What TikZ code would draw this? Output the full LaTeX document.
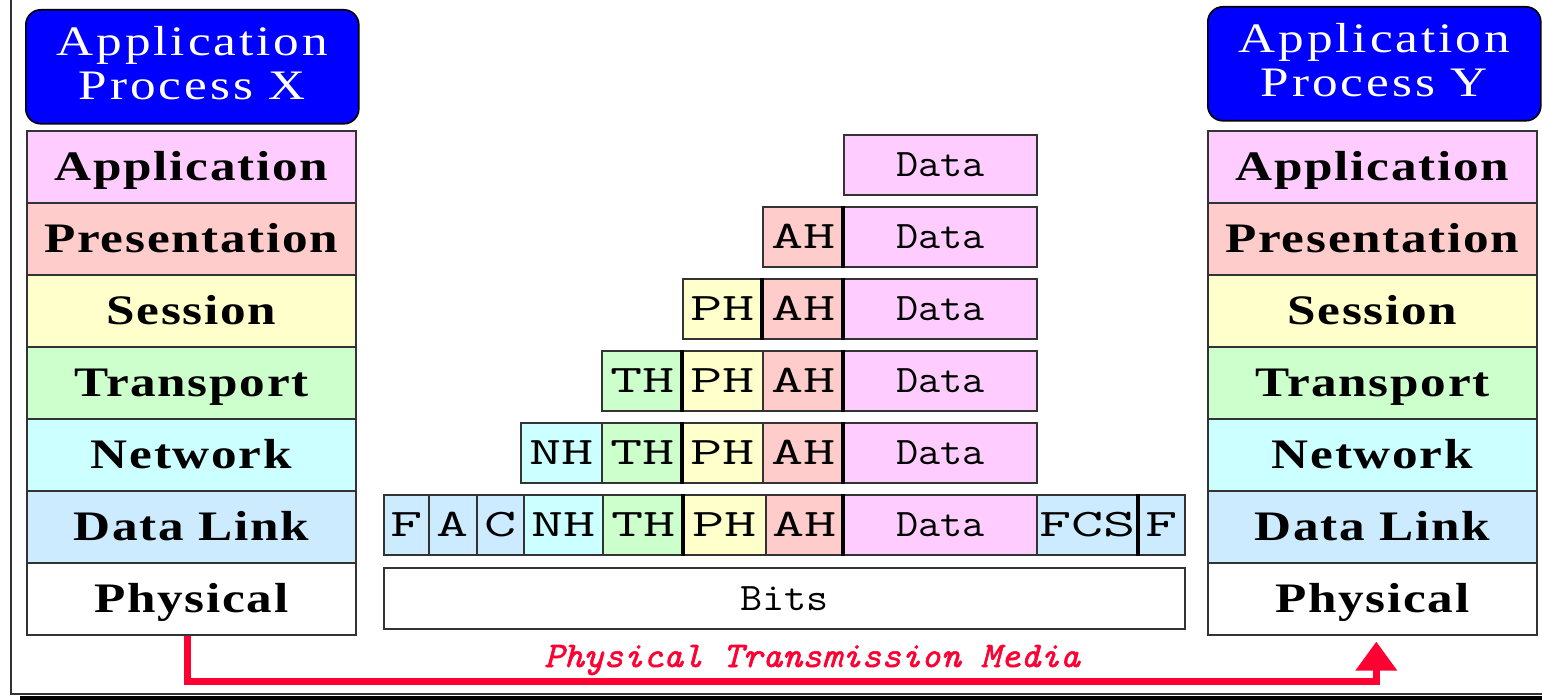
\documentclass[tikz,border=0pt]{standalone}
\usepackage{fontspec}
\setmainfont{Liberation Serif}
\newfontfamily\layerfam[FakeStretch=1.22, LetterSpace=4]{Liberation Serif}
\newfontfamily\procfam[FakeStretch=1.22, LetterSpace=7]{Liberation Serif}
\newfontfamily\monoplain[FakeStretch=1.1]{Latin Modern Mono}
\newfontfamily\monowide[FakeStretch=1.6]{Latin Modern Mono}
\newfontfamily\monoslant[FakeStretch=1.05, FakeBold=1.5]{Latin Modern Mono}
\usetikzlibrary{arrows.meta}

\definecolor{cApp}{HTML}{FFCCFF}
\definecolor{cPres}{HTML}{FFCCCC}
\definecolor{cSess}{HTML}{FFFFCC}
\definecolor{cTrans}{HTML}{CCFFCC}
\definecolor{cNet}{HTML}{CCFFFF}
\definecolor{cLink}{HTML}{CCEBFF}
\definecolor{cProc}{HTML}{0000FF}
\definecolor{cMedia}{HTML}{FF0033}
\definecolor{cEdge}{HTML}{333333}

\tikzset{
  layer/.style={anchor=north west, minimum width=329pt, minimum height=72pt,
    inner sep=0pt, draw=cEdge, line width=1.6pt,
    font=\layerfam\bfseries\fontsize{42}{44}\selectfont,
    text height=28pt, text depth=0pt},
  procbox/.style={anchor=north west, minimum width=333pt, minimum height=114pt,
    inner sep=0pt, draw=black, line width=1.6pt, fill=cProc, text=white,
    rounded corners=15pt, align=center, text depth=8pt,
    font=\procfam\fontsize{42}{44}\selectfont},
  cell/.style={anchor=north west, minimum height=60pt, inner sep=0pt,
    draw=cEdge, line width=1.6pt, text height=24pt, text depth=0pt,
    font=\monoplain\fontsize{39}{40}\selectfont},
  hcell/.style={cell, font=\monowide\fontsize{39}{40}\selectfont},
  ahcell/.style={hcell, fill=cPres},
  phcell/.style={hcell, fill=cSess},
  thcell/.style={hcell, fill=cTrans},
  nhcell/.style={hcell, fill=cNet},
  dlcell/.style={hcell, fill=cLink},
  datacell/.style={cell, fill=cApp},
  divider/.style={line width=4pt, black},
  media/.style={line width=7pt, cMedia,
    -{Triangle[width=40pt,length=29pt]}},
  frameline/.style={line width=2.4pt, black!80}
}

% one PDU field: name, left x, right x, top y, style, text
\newcommand\pfield[6]{\node[#5, minimum width={#3pt-#2pt}] (#1) at (#2,#4) {#6};}

\begin{document}
\begin{tikzpicture}[x=1pt, y=-1pt]
\useasboundingbox (0,0) rectangle (1542,700);

% outer frame with its shadow
\fill[black] (20,696) rectangle (1542,700);
\draw[frameline] (11,0) -- (11,694) -- (1542,694);

% sending side
\node[procbox] (procX) at (25,9) {Application\\Process X};
\node[layer, fill=cApp]   (apX) at (26,130) {Application};
\node[layer, fill=cPres]  (prX) at (26,202) {Presentation};
\node[layer, fill=cSess]  (seX) at (26,274) {Session};
\node[layer, fill=cTrans] (trX) at (26,346) {Transport};
\node[layer, fill=cNet]   (nwX) at (26,418) {Network};
\node[layer, fill=cLink]  (dlX) at (26,490) {Data Link};
\node[layer, fill=white]  (phX) at (26,562) {Physical};

% receiving side
\node[procbox] (procY) at (1207,6) {Application\\Process Y};
\node[layer, fill=cApp]   (apY) at (1207,130) {Application};
\node[layer, fill=cPres]  (prY) at (1207,202) {Presentation};
\node[layer, fill=cSess]  (seY) at (1207,274) {Session};
\node[layer, fill=cTrans] (trY) at (1207,346) {Transport};
\node[layer, fill=cNet]   (nwY) at (1207,418) {Network};
\node[layer, fill=cLink]  (dlY) at (1207,490) {Data Link};
\node[layer, fill=white]  (phY) at (1207,562) {Physical};

% encapsulation, one row per layer
\pfield{d1}{843}{1036}{134}{datacell}{Data}

\pfield{ah2}{762}{843}{206}{ahcell}{AH}
\pfield{d2}{843}{1036}{206}{datacell}{Data}

\pfield{ph3}{682}{762}{278}{phcell}{PH}
\pfield{ah3}{762}{843}{278}{ahcell}{AH}
\pfield{d3}{843}{1036}{278}{datacell}{Data}

\pfield{th4}{601}{682}{350}{thcell}{TH}
\pfield{ph4}{682}{762}{350}{phcell}{PH}
\pfield{ah4}{762}{843}{350}{ahcell}{AH}
\pfield{d4}{843}{1036}{350}{datacell}{Data}

\pfield{nh5}{520}{601}{422}{nhcell}{NH}
\pfield{th5}{601}{682}{422}{thcell}{TH}
\pfield{ph5}{682}{762}{422}{phcell}{PH}
\pfield{ah5}{762}{843}{422}{ahcell}{AH}
\pfield{d5}{843}{1036}{422}{datacell}{Data}

\pfield{f6}{383}{428}{494}{dlcell}{F}
\pfield{a6}{428}{476}{494}{dlcell}{A}
\pfield{c6}{476}{523}{494}{dlcell}{C}
\pfield{nh6}{523}{602}{494}{nhcell}{NH}
\pfield{th6}{602}{683}{494}{thcell}{TH}
\pfield{ph6}{683}{765}{494}{phcell}{PH}
\pfield{ah6}{765}{843}{494}{ahcell}{AH}
\pfield{d6}{843}{1036}{494}{datacell}{Data}
\pfield{fcs6}{1036}{1138}{494}{dlcell}{FCS}
\pfield{fe6}{1138}{1184}{494}{dlcell}{F}

\node[cell, fill=white, minimum width=801pt, minimum height=61pt] (bits) at (383,567) {Bits};

% heavier field boundaries
\foreach \n in {d2,ah3,d3,ph4,d4,ph5,d5,ph6,d6,fe6}
  \draw[divider] (\n.north west) -- (\n.south west);

% physical medium between the two stacks
\coordinate (startX) at ([xshift=-4pt]phX.south);
\coordinate (tipY) at ([xshift=4pt,yshift=-6pt]phY.south);
\coordinate (low) at (0,681);
\draw[media] (startX) -- (startX |- low) -- (tipY |- low) -- (tipY);
\node[anchor=base, text=cMedia, font=\monoslant\itshape\fontsize{36}{38}\selectfont]
  (medialabel) at (812,667) {Physical Transmission Media};
\end{tikzpicture}
\end{document}
